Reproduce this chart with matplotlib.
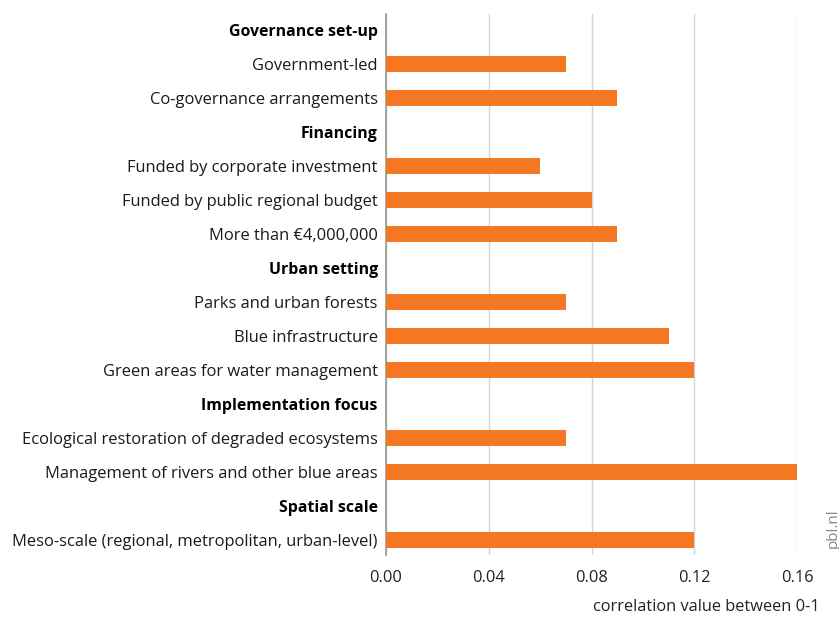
import matplotlib.pyplot as plt

plt.rcParams["font.family"] = ["Open Sans", "DejaVu Sans"]

# rows top to bottom; None marks a group heading without a bar
labels = [
    "Governance set-up",
    "Government-led",
    "Co-governance arrangements",
    "Financing",
    "Funded by corporate investment",
    "Funded by public regional budget",
    "More than €4,000,000",
    "Urban setting",
    "Parks and urban forests",
    "Blue infrastructure",
    "Green areas for water management",
    "Implementation focus",
    "Ecological restoration of degraded ecosystems",
    "Management of rivers and other blue areas",
    "Spatial scale",
    "Meso-scale (regional, metropolitan, urban-level)",
]
values = [None, 0.07, 0.09, None, 0.06, 0.08, 0.09, None, 0.07, 0.11, 0.12,
          None, 0.07, 0.16, None, 0.12]
xticks = [0.00, 0.04, 0.08, 0.12, 0.16]

fig = plt.figure(figsize=(8.39, 6.17), dpi=100)
ax = fig.add_axes([386 / 839, 1 - 555 / 617, 411 / 839, 541 / 617])

rows = list(range(len(labels)))
bar_rows = [r for r, v in zip(rows, values) if v is not None]
bar_vals = [v for v in values if v is not None]
ax.barh(bar_rows, bar_vals, height=0.47, color="#f47721", zorder=3)

ax.set_xlim(0, 0.16)
ax.set_ylim(15.45, -0.47)
ax.set_xticks(xticks)
ax.set_xticklabels([f"{t:.2f}" for t in xticks], fontsize=11.8, color="#222222")
ax.tick_params(axis="x", length=0, pad=11)
ax.grid(axis="x", color="#d4d4d4", linewidth=1, zorder=0)

ax.set_yticks(rows)
ax.set_yticklabels(labels, fontsize=11.9, color="#1a1a1a")
ax.tick_params(axis="y", length=0, pad=6)
for r, lab in zip(rows, ax.get_yticklabels()):
    if values[r] is None:
        lab.set_fontweight("bold")
        lab.set_fontsize(11.4)
        lab.set_color("#000000")

for side in ["top", "right", "bottom"]:
    ax.spines[side].set_visible(False)
ax.spines["left"].set_color("#999999")
ax.spines["left"].set_linewidth(1.2)

fig.text(820 / 839, 1 - 607 / 617, "correlation value between 0-1",
         ha="right", va="center", fontsize=11.8, color="#222222")
fig.text(833 / 839, 1 - 528 / 617, "pbl.nl", rotation=90, ha="center",
         va="center", fontsize=11, color="#888888")

fig.savefig("out.png", dpi=100)
